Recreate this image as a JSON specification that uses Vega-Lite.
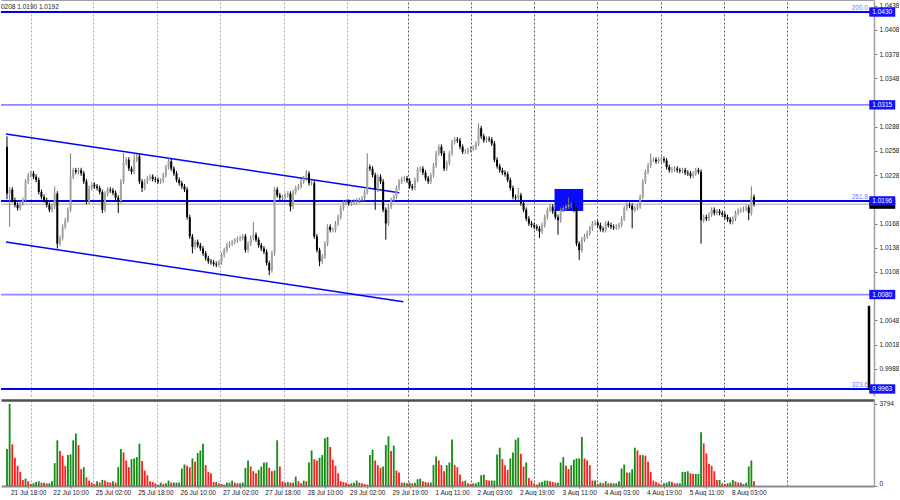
{
"$schema": "https://vega.github.io/schema/vega-lite/v6.json",
"padding": 0,
"background": "#ffffff",
"spacing": 4,
"config": {"view": {"stroke": null}, "font": "Liberation Sans", "axis": {"labelFont": "Liberation Sans", "labelFontSize": 6.5, "labelColor": "#1a1a1a", "tickColor": "#808080", "minExtent": 0, "labelOverlap": false}},
"datasets": {
"levels": [
{"p": 1.0192, "kind": "bid", "fib": ""},
{"p": 1.0430, "kind": "fibo", "fib": "200.0"},
{"p": 1.0315, "kind": "hline", "fib": ""},
{"p": 1.0196, "kind": "fibo", "fib": "261.8"},
{"p": 1.0080, "kind": "hline", "fib": ""},
{"p": 0.9963, "kind": "fibo", "fib": "323.6"}
],
"channel": [
{"k": "upper", "t": -0.37, "p": 1.0279},
{"k": "upper", "t": 148.1, "p": 1.0206},
{"k": "lower", "t": -0.37, "p": 1.0145},
{"k": "lower", "t": 149.6, "p": 1.0071}
],
"zone": [{"t1": 206.7, "t2": 217.5, "p1": 1.02108, "p2": 1.01835}],
"marker": [{"t": 325.4, "p1": 1.0066, "p2": 0.9962}],
"bars": [
{"t":0,"o":1.0263,"h":1.0276,"l":1.0198,"c":1.0205,"v":1711},
{"t":1,"o":1.0205,"h":1.0213,"l":1.0164,"c":1.0210,"v":3794},
{"t":2,"o":1.0210,"h":1.0213,"l":1.0194,"c":1.0197,"v":1928},
{"t":3,"o":1.0197,"h":1.0200,"l":1.0188,"c":1.0191,"v":1306},
{"t":4,"o":1.0191,"h":1.0194,"l":1.0184,"c":1.0187,"v":933},
{"t":5,"o":1.0187,"h":1.0196,"l":1.0184,"c":1.0193,"v":653},
{"t":6,"o":1.0193,"h":1.0200,"l":1.0190,"c":1.0197,"v":280},
{"t":7,"o":1.0197,"h":1.0223,"l":1.0194,"c":1.0220,"v":342},
{"t":8,"o":1.0220,"h":1.0231,"l":1.0217,"c":1.0228,"v":218},
{"t":9,"o":1.0228,"h":1.0233,"l":1.0225,"c":1.0230,"v":93},
{"t":10,"o":1.0230,"h":1.0233,"l":1.0223,"c":1.0226,"v":124},
{"t":11,"o":1.0226,"h":1.0229,"l":1.0219,"c":1.0222,"v":187},
{"t":12,"o":1.0222,"h":1.0225,"l":1.0204,"c":1.0207,"v":218},
{"t":13,"o":1.0207,"h":1.0210,"l":1.0198,"c":1.0201,"v":156},
{"t":14,"o":1.0201,"h":1.0204,"l":1.0194,"c":1.0197,"v":156},
{"t":15,"o":1.0197,"h":1.0200,"l":1.0188,"c":1.0191,"v":124},
{"t":16,"o":1.0191,"h":1.0194,"l":1.0182,"c":1.0185,"v":124},
{"t":17,"o":1.0185,"h":1.0192,"l":1.0182,"c":1.0189,"v":218},
{"t":18,"o":1.0189,"h":1.0214,"l":1.0186,"c":1.0205,"v":1057},
{"t":19,"o":1.0205,"h":1.0208,"l":1.0137,"c":1.0143,"v":2115},
{"t":20,"o":1.0143,"h":1.0153,"l":1.0140,"c":1.0150,"v":1617},
{"t":21,"o":1.0150,"h":1.0167,"l":1.0147,"c":1.0164,"v":1400},
{"t":22,"o":1.0164,"h":1.0175,"l":1.0161,"c":1.0172,"v":933},
{"t":23,"o":1.0172,"h":1.0188,"l":1.0169,"c":1.0185,"v":1431},
{"t":24,"o":1.0185,"h":1.0255,"l":1.0182,"c":1.0226,"v":1462},
{"t":25,"o":1.0226,"h":1.0237,"l":1.0223,"c":1.0234,"v":2115},
{"t":26,"o":1.0234,"h":1.0237,"l":1.0229,"c":1.0232,"v":2426},
{"t":27,"o":1.0232,"h":1.0237,"l":1.0229,"c":1.0234,"v":1897},
{"t":28,"o":1.0234,"h":1.0237,"l":1.0227,"c":1.0230,"v":778},
{"t":29,"o":1.0230,"h":1.0233,"l":1.0217,"c":1.0220,"v":871},
{"t":30,"o":1.0220,"h":1.0223,"l":1.0192,"c":1.0195,"v":404},
{"t":31,"o":1.0195,"h":1.0215,"l":1.0192,"c":1.0212,"v":249},
{"t":32,"o":1.0212,"h":1.0219,"l":1.0209,"c":1.0216,"v":156},
{"t":33,"o":1.0216,"h":1.0219,"l":1.0211,"c":1.0214,"v":93},
{"t":34,"o":1.0214,"h":1.0217,"l":1.0209,"c":1.0212,"v":218},
{"t":35,"o":1.0212,"h":1.0215,"l":1.0204,"c":1.0207,"v":156},
{"t":36,"o":1.0207,"h":1.0210,"l":1.0181,"c":1.0185,"v":280},
{"t":37,"o":1.0185,"h":1.0208,"l":1.0182,"c":1.0205,"v":249},
{"t":38,"o":1.0205,"h":1.0213,"l":1.0202,"c":1.0210,"v":187},
{"t":39,"o":1.0210,"h":1.0213,"l":1.0206,"c":1.0209,"v":156},
{"t":40,"o":1.0209,"h":1.0212,"l":1.0203,"c":1.0206,"v":218},
{"t":41,"o":1.0206,"h":1.0209,"l":1.0197,"c":1.0200,"v":156},
{"t":42,"o":1.0200,"h":1.0203,"l":1.0181,"c":1.0196,"v":871},
{"t":43,"o":1.0196,"h":1.0223,"l":1.0193,"c":1.0220,"v":1711},
{"t":44,"o":1.0220,"h":1.0255,"l":1.0217,"c":1.0243,"v":1555},
{"t":45,"o":1.0243,"h":1.0250,"l":1.0240,"c":1.0247,"v":1182},
{"t":46,"o":1.0247,"h":1.0250,"l":1.0233,"c":1.0236,"v":871},
{"t":47,"o":1.0236,"h":1.0239,"l":1.0229,"c":1.0232,"v":1244},
{"t":48,"o":1.0232,"h":1.0255,"l":1.0229,"c":1.0247,"v":1275},
{"t":49,"o":1.0247,"h":1.0254,"l":1.0244,"c":1.0251,"v":1337},
{"t":50,"o":1.0251,"h":1.0254,"l":1.0217,"c":1.0220,"v":1959},
{"t":51,"o":1.0220,"h":1.0223,"l":1.0207,"c":1.0212,"v":1151},
{"t":52,"o":1.0212,"h":1.0223,"l":1.0209,"c":1.0220,"v":715},
{"t":53,"o":1.0220,"h":1.0227,"l":1.0217,"c":1.0224,"v":498},
{"t":54,"o":1.0224,"h":1.0229,"l":1.0221,"c":1.0226,"v":218},
{"t":55,"o":1.0226,"h":1.0229,"l":1.0220,"c":1.0223,"v":187},
{"t":56,"o":1.0223,"h":1.0226,"l":1.0219,"c":1.0222,"v":124},
{"t":57,"o":1.0222,"h":1.0225,"l":1.0217,"c":1.0220,"v":62},
{"t":58,"o":1.0220,"h":1.0224,"l":1.0217,"c":1.0221,"v":156},
{"t":59,"o":1.0221,"h":1.0231,"l":1.0218,"c":1.0228,"v":93},
{"t":60,"o":1.0228,"h":1.0241,"l":1.0225,"c":1.0238,"v":124},
{"t":61,"o":1.0238,"h":1.0249,"l":1.0235,"c":1.0245,"v":249},
{"t":62,"o":1.0245,"h":1.0248,"l":1.0233,"c":1.0236,"v":156},
{"t":63,"o":1.0236,"h":1.0239,"l":1.0227,"c":1.0230,"v":156},
{"t":64,"o":1.0230,"h":1.0233,"l":1.0219,"c":1.0222,"v":156},
{"t":65,"o":1.0222,"h":1.0225,"l":1.0215,"c":1.0218,"v":156},
{"t":66,"o":1.0218,"h":1.0221,"l":1.0211,"c":1.0214,"v":809},
{"t":67,"o":1.0214,"h":1.0217,"l":1.0207,"c":1.0210,"v":995},
{"t":68,"o":1.0210,"h":1.0213,"l":1.0173,"c":1.0176,"v":933},
{"t":69,"o":1.0176,"h":1.0179,"l":1.0149,"c":1.0152,"v":871},
{"t":70,"o":1.0152,"h":1.0155,"l":1.0131,"c":1.0139,"v":1275},
{"t":71,"o":1.0139,"h":1.0148,"l":1.0136,"c":1.0145,"v":1120},
{"t":72,"o":1.0145,"h":1.0148,"l":1.0138,"c":1.0141,"v":1524},
{"t":73,"o":1.0141,"h":1.0144,"l":1.0134,"c":1.0137,"v":1648},
{"t":74,"o":1.0137,"h":1.0140,"l":1.0128,"c":1.0131,"v":1959},
{"t":75,"o":1.0131,"h":1.0134,"l":1.0122,"c":1.0125,"v":964},
{"t":76,"o":1.0125,"h":1.0128,"l":1.0118,"c":1.0121,"v":653},
{"t":77,"o":1.0121,"h":1.0124,"l":1.0117,"c":1.0120,"v":591},
{"t":78,"o":1.0120,"h":1.0123,"l":1.0115,"c":1.0118,"v":187},
{"t":79,"o":1.0118,"h":1.0121,"l":1.0114,"c":1.0117,"v":187},
{"t":80,"o":1.0117,"h":1.0123,"l":1.0114,"c":1.0120,"v":124},
{"t":81,"o":1.0120,"h":1.0132,"l":1.0117,"c":1.0129,"v":93},
{"t":82,"o":1.0129,"h":1.0138,"l":1.0126,"c":1.0135,"v":62},
{"t":83,"o":1.0135,"h":1.0144,"l":1.0132,"c":1.0141,"v":156},
{"t":84,"o":1.0141,"h":1.0146,"l":1.0138,"c":1.0143,"v":156},
{"t":85,"o":1.0143,"h":1.0148,"l":1.0140,"c":1.0145,"v":249},
{"t":86,"o":1.0145,"h":1.0150,"l":1.0142,"c":1.0147,"v":156},
{"t":87,"o":1.0147,"h":1.0152,"l":1.0144,"c":1.0149,"v":124},
{"t":88,"o":1.0149,"h":1.0153,"l":1.0146,"c":1.0150,"v":124},
{"t":89,"o":1.0150,"h":1.0155,"l":1.0147,"c":1.0152,"v":156},
{"t":90,"o":1.0152,"h":1.0155,"l":1.0132,"c":1.0135,"v":840},
{"t":91,"o":1.0135,"h":1.0146,"l":1.0132,"c":1.0143,"v":1182},
{"t":92,"o":1.0143,"h":1.0153,"l":1.0140,"c":1.0150,"v":902},
{"t":93,"o":1.0150,"h":1.0170,"l":1.0147,"c":1.0154,"v":684},
{"t":94,"o":1.0154,"h":1.0157,"l":1.0145,"c":1.0148,"v":591},
{"t":95,"o":1.0148,"h":1.0151,"l":1.0138,"c":1.0141,"v":746},
{"t":96,"o":1.0141,"h":1.0144,"l":1.0134,"c":1.0137,"v":902},
{"t":97,"o":1.0137,"h":1.0140,"l":1.0130,"c":1.0133,"v":1089},
{"t":98,"o":1.0133,"h":1.0136,"l":1.0116,"c":1.0119,"v":1089},
{"t":99,"o":1.0119,"h":1.0122,"l":1.0104,"c":1.0110,"v":840},
{"t":100,"o":1.0110,"h":1.0134,"l":1.0107,"c":1.0131,"v":684},
{"t":101,"o":1.0131,"h":1.0213,"l":1.0128,"c":1.0210,"v":715},
{"t":102,"o":1.0210,"h":1.0213,"l":1.0200,"c":1.0203,"v":2115},
{"t":103,"o":1.0203,"h":1.0206,"l":1.0197,"c":1.0200,"v":902},
{"t":104,"o":1.0200,"h":1.0204,"l":1.0197,"c":1.0201,"v":218},
{"t":105,"o":1.0201,"h":1.0206,"l":1.0198,"c":1.0203,"v":156},
{"t":106,"o":1.0203,"h":1.0208,"l":1.0200,"c":1.0205,"v":187},
{"t":107,"o":1.0205,"h":1.0208,"l":1.0183,"c":1.0189,"v":156},
{"t":108,"o":1.0189,"h":1.0210,"l":1.0186,"c":1.0207,"v":156},
{"t":109,"o":1.0207,"h":1.0215,"l":1.0204,"c":1.0212,"v":435},
{"t":110,"o":1.0212,"h":1.0217,"l":1.0209,"c":1.0214,"v":218},
{"t":111,"o":1.0214,"h":1.0223,"l":1.0211,"c":1.0220,"v":124},
{"t":112,"o":1.0220,"h":1.0227,"l":1.0217,"c":1.0224,"v":249},
{"t":113,"o":1.0224,"h":1.0234,"l":1.0221,"c":1.0230,"v":218},
{"t":114,"o":1.0230,"h":1.0233,"l":1.0215,"c":1.0218,"v":1089},
{"t":115,"o":1.0218,"h":1.0222,"l":1.0215,"c":1.0218,"v":1648},
{"t":116,"o":1.0218,"h":1.0221,"l":1.0149,"c":1.0152,"v":1244},
{"t":117,"o":1.0152,"h":1.0155,"l":1.0132,"c":1.0135,"v":1182},
{"t":118,"o":1.0135,"h":1.0138,"l":1.0115,"c":1.0121,"v":1306},
{"t":119,"o":1.0121,"h":1.0130,"l":1.0118,"c":1.0127,"v":1431},
{"t":120,"o":1.0127,"h":1.0146,"l":1.0124,"c":1.0143,"v":2208},
{"t":121,"o":1.0143,"h":1.0167,"l":1.0140,"c":1.0164,"v":2270},
{"t":122,"o":1.0164,"h":1.0167,"l":1.0157,"c":1.0160,"v":1804},
{"t":123,"o":1.0160,"h":1.0163,"l":1.0157,"c":1.0160,"v":1213},
{"t":124,"o":1.0160,"h":1.0171,"l":1.0157,"c":1.0168,"v":933},
{"t":125,"o":1.0168,"h":1.0179,"l":1.0165,"c":1.0176,"v":591},
{"t":126,"o":1.0176,"h":1.0190,"l":1.0173,"c":1.0187,"v":218},
{"t":127,"o":1.0187,"h":1.0197,"l":1.0184,"c":1.0194,"v":187},
{"t":128,"o":1.0194,"h":1.0198,"l":1.0191,"c":1.0195,"v":156},
{"t":129,"o":1.0195,"h":1.0198,"l":1.0190,"c":1.0193,"v":93},
{"t":130,"o":1.0193,"h":1.0197,"l":1.0190,"c":1.0194,"v":124},
{"t":131,"o":1.0194,"h":1.0198,"l":1.0191,"c":1.0195,"v":156},
{"t":132,"o":1.0195,"h":1.0199,"l":1.0192,"c":1.0196,"v":249},
{"t":133,"o":1.0196,"h":1.0200,"l":1.0193,"c":1.0197,"v":156},
{"t":134,"o":1.0197,"h":1.0202,"l":1.0194,"c":1.0199,"v":124},
{"t":135,"o":1.0199,"h":1.0210,"l":1.0196,"c":1.0207,"v":93},
{"t":136,"o":1.0207,"h":1.0255,"l":1.0204,"c":1.0238,"v":62},
{"t":137,"o":1.0238,"h":1.0241,"l":1.0233,"c":1.0236,"v":1431},
{"t":138,"o":1.0236,"h":1.0239,"l":1.0225,"c":1.0228,"v":1679},
{"t":139,"o":1.0228,"h":1.0231,"l":1.0185,"c":1.0210,"v":1182},
{"t":140,"o":1.0210,"h":1.0229,"l":1.0207,"c":1.0226,"v":964},
{"t":141,"o":1.0226,"h":1.0229,"l":1.0217,"c":1.0220,"v":840},
{"t":142,"o":1.0220,"h":1.0223,"l":1.0182,"c":1.0185,"v":902},
{"t":143,"o":1.0185,"h":1.0188,"l":1.0148,"c":1.0168,"v":1897},
{"t":144,"o":1.0168,"h":1.0192,"l":1.0165,"c":1.0189,"v":2301},
{"t":145,"o":1.0189,"h":1.0200,"l":1.0186,"c":1.0197,"v":1617},
{"t":146,"o":1.0197,"h":1.0204,"l":1.0194,"c":1.0201,"v":1866},
{"t":147,"o":1.0201,"h":1.0215,"l":1.0198,"c":1.0212,"v":715},
{"t":148,"o":1.0212,"h":1.0223,"l":1.0209,"c":1.0220,"v":622},
{"t":149,"o":1.0220,"h":1.0226,"l":1.0217,"c":1.0223,"v":156},
{"t":150,"o":1.0223,"h":1.0227,"l":1.0220,"c":1.0224,"v":156},
{"t":151,"o":1.0224,"h":1.0227,"l":1.0218,"c":1.0221,"v":124},
{"t":152,"o":1.0221,"h":1.0224,"l":1.0211,"c":1.0214,"v":156},
{"t":153,"o":1.0214,"h":1.0217,"l":1.0209,"c":1.0212,"v":124},
{"t":154,"o":1.0212,"h":1.0225,"l":1.0209,"c":1.0222,"v":156},
{"t":155,"o":1.0222,"h":1.0238,"l":1.0219,"c":1.0235,"v":311},
{"t":156,"o":1.0235,"h":1.0239,"l":1.0232,"c":1.0236,"v":342},
{"t":157,"o":1.0236,"h":1.0239,"l":1.0228,"c":1.0231,"v":218},
{"t":158,"o":1.0231,"h":1.0234,"l":1.0221,"c":1.0224,"v":187},
{"t":159,"o":1.0224,"h":1.0227,"l":1.0217,"c":1.0220,"v":156},
{"t":160,"o":1.0220,"h":1.0231,"l":1.0217,"c":1.0228,"v":156},
{"t":161,"o":1.0228,"h":1.0243,"l":1.0225,"c":1.0240,"v":964},
{"t":162,"o":1.0240,"h":1.0258,"l":1.0237,"c":1.0255,"v":1368},
{"t":163,"o":1.0255,"h":1.0266,"l":1.0252,"c":1.0263,"v":1182},
{"t":164,"o":1.0263,"h":1.0266,"l":1.0252,"c":1.0255,"v":964},
{"t":165,"o":1.0255,"h":1.0258,"l":1.0233,"c":1.0236,"v":684},
{"t":166,"o":1.0236,"h":1.0246,"l":1.0233,"c":1.0243,"v":964},
{"t":167,"o":1.0243,"h":1.0258,"l":1.0240,"c":1.0255,"v":1089},
{"t":168,"o":1.0255,"h":1.0272,"l":1.0252,"c":1.0269,"v":2146},
{"t":169,"o":1.0269,"h":1.0275,"l":1.0266,"c":1.0272,"v":964},
{"t":170,"o":1.0272,"h":1.0275,"l":1.0268,"c":1.0271,"v":871},
{"t":171,"o":1.0271,"h":1.0274,"l":1.0260,"c":1.0263,"v":529},
{"t":172,"o":1.0263,"h":1.0266,"l":1.0254,"c":1.0257,"v":218},
{"t":173,"o":1.0257,"h":1.0260,"l":1.0254,"c":1.0257,"v":249},
{"t":174,"o":1.0257,"h":1.0262,"l":1.0254,"c":1.0259,"v":124},
{"t":175,"o":1.0259,"h":1.0264,"l":1.0256,"c":1.0261,"v":93},
{"t":176,"o":1.0261,"h":1.0265,"l":1.0258,"c":1.0262,"v":124},
{"t":177,"o":1.0262,"h":1.0270,"l":1.0259,"c":1.0267,"v":124},
{"t":178,"o":1.0267,"h":1.0292,"l":1.0264,"c":1.0286,"v":187},
{"t":179,"o":1.0286,"h":1.0289,"l":1.0273,"c":1.0276,"v":498},
{"t":180,"o":1.0276,"h":1.0279,"l":1.0268,"c":1.0271,"v":529},
{"t":181,"o":1.0271,"h":1.0276,"l":1.0268,"c":1.0273,"v":280},
{"t":182,"o":1.0273,"h":1.0276,"l":1.0269,"c":1.0272,"v":249},
{"t":183,"o":1.0272,"h":1.0275,"l":1.0264,"c":1.0267,"v":249},
{"t":184,"o":1.0267,"h":1.0270,"l":1.0244,"c":1.0247,"v":249},
{"t":185,"o":1.0247,"h":1.0250,"l":1.0236,"c":1.0239,"v":1462},
{"t":186,"o":1.0239,"h":1.0242,"l":1.0231,"c":1.0234,"v":1773},
{"t":187,"o":1.0234,"h":1.0237,"l":1.0228,"c":1.0231,"v":1244},
{"t":188,"o":1.0231,"h":1.0234,"l":1.0226,"c":1.0229,"v":964},
{"t":189,"o":1.0229,"h":1.0232,"l":1.0219,"c":1.0222,"v":746},
{"t":190,"o":1.0222,"h":1.0225,"l":1.0209,"c":1.0212,"v":1275},
{"t":191,"o":1.0212,"h":1.0215,"l":1.0198,"c":1.0201,"v":1555},
{"t":192,"o":1.0201,"h":1.0204,"l":1.0197,"c":1.0200,"v":2146},
{"t":193,"o":1.0200,"h":1.0212,"l":1.0197,"c":1.0203,"v":2239},
{"t":194,"o":1.0203,"h":1.0206,"l":1.0190,"c":1.0193,"v":1493},
{"t":195,"o":1.0193,"h":1.0196,"l":1.0182,"c":1.0185,"v":902},
{"t":196,"o":1.0185,"h":1.0188,"l":1.0171,"c":1.0174,"v":1089},
{"t":197,"o":1.0174,"h":1.0177,"l":1.0165,"c":1.0168,"v":373},
{"t":198,"o":1.0168,"h":1.0171,"l":1.0163,"c":1.0166,"v":249},
{"t":199,"o":1.0166,"h":1.0169,"l":1.0161,"c":1.0164,"v":124},
{"t":200,"o":1.0164,"h":1.0167,"l":1.0159,"c":1.0162,"v":62},
{"t":201,"o":1.0162,"h":1.0165,"l":1.0150,"c":1.0158,"v":156},
{"t":202,"o":1.0158,"h":1.0169,"l":1.0155,"c":1.0166,"v":187},
{"t":203,"o":1.0166,"h":1.0179,"l":1.0163,"c":1.0176,"v":249},
{"t":204,"o":1.0176,"h":1.0188,"l":1.0173,"c":1.0185,"v":249},
{"t":205,"o":1.0185,"h":1.0192,"l":1.0182,"c":1.0189,"v":218},
{"t":206,"o":1.0189,"h":1.0192,"l":1.0180,"c":1.0183,"v":187},
{"t":207,"o":1.0183,"h":1.0186,"l":1.0173,"c":1.0176,"v":156},
{"t":208,"o":1.0176,"h":1.0179,"l":1.0154,"c":1.0172,"v":156},
{"t":209,"o":1.0172,"h":1.0188,"l":1.0169,"c":1.0185,"v":1089},
{"t":210,"o":1.0185,"h":1.0190,"l":1.0182,"c":1.0187,"v":1337},
{"t":211,"o":1.0187,"h":1.0192,"l":1.0184,"c":1.0189,"v":933},
{"t":212,"o":1.0189,"h":1.0200,"l":1.0186,"c":1.0191,"v":778},
{"t":213,"o":1.0191,"h":1.0194,"l":1.0187,"c":1.0191,"v":964},
{"t":214,"o":1.0191,"h":1.0194,"l":1.0182,"c":1.0185,"v":1213},
{"t":215,"o":1.0185,"h":1.0188,"l":1.0140,"c":1.0143,"v":1275},
{"t":216,"o":1.0143,"h":1.0146,"l":1.0123,"c":1.0135,"v":1275},
{"t":217,"o":1.0135,"h":1.0151,"l":1.0132,"c":1.0148,"v":2270},
{"t":218,"o":1.0148,"h":1.0155,"l":1.0145,"c":1.0152,"v":1275},
{"t":219,"o":1.0152,"h":1.0159,"l":1.0149,"c":1.0156,"v":1182},
{"t":220,"o":1.0156,"h":1.0165,"l":1.0153,"c":1.0162,"v":964},
{"t":221,"o":1.0162,"h":1.0171,"l":1.0159,"c":1.0168,"v":249},
{"t":222,"o":1.0168,"h":1.0172,"l":1.0165,"c":1.0169,"v":249},
{"t":223,"o":1.0169,"h":1.0172,"l":1.0163,"c":1.0166,"v":93},
{"t":224,"o":1.0166,"h":1.0169,"l":1.0158,"c":1.0161,"v":156},
{"t":225,"o":1.0161,"h":1.0164,"l":1.0157,"c":1.0160,"v":124},
{"t":226,"o":1.0160,"h":1.0171,"l":1.0157,"c":1.0168,"v":218},
{"t":227,"o":1.0168,"h":1.0171,"l":1.0163,"c":1.0166,"v":124},
{"t":228,"o":1.0166,"h":1.0169,"l":1.0161,"c":1.0164,"v":124},
{"t":229,"o":1.0164,"h":1.0167,"l":1.0160,"c":1.0163,"v":124},
{"t":230,"o":1.0163,"h":1.0167,"l":1.0160,"c":1.0164,"v":124},
{"t":231,"o":1.0164,"h":1.0169,"l":1.0161,"c":1.0166,"v":218},
{"t":232,"o":1.0166,"h":1.0177,"l":1.0163,"c":1.0174,"v":809},
{"t":233,"o":1.0174,"h":1.0190,"l":1.0171,"c":1.0187,"v":995},
{"t":234,"o":1.0187,"h":1.0194,"l":1.0184,"c":1.0191,"v":622},
{"t":235,"o":1.0191,"h":1.0194,"l":1.0187,"c":1.0190,"v":622},
{"t":236,"o":1.0190,"h":1.0193,"l":1.0162,"c":1.0185,"v":778},
{"t":237,"o":1.0185,"h":1.0190,"l":1.0182,"c":1.0187,"v":1773},
{"t":238,"o":1.0187,"h":1.0192,"l":1.0184,"c":1.0189,"v":1648},
{"t":239,"o":1.0189,"h":1.0204,"l":1.0186,"c":1.0201,"v":1431},
{"t":240,"o":1.0201,"h":1.0223,"l":1.0198,"c":1.0220,"v":1431},
{"t":241,"o":1.0220,"h":1.0235,"l":1.0217,"c":1.0232,"v":1400},
{"t":242,"o":1.0232,"h":1.0243,"l":1.0229,"c":1.0240,"v":1120},
{"t":243,"o":1.0240,"h":1.0255,"l":1.0237,"c":1.0247,"v":653},
{"t":244,"o":1.0247,"h":1.0250,"l":1.0244,"c":1.0247,"v":249},
{"t":245,"o":1.0247,"h":1.0250,"l":1.0242,"c":1.0245,"v":187},
{"t":246,"o":1.0245,"h":1.0250,"l":1.0242,"c":1.0247,"v":124},
{"t":247,"o":1.0247,"h":1.0251,"l":1.0244,"c":1.0248,"v":62},
{"t":248,"o":1.0248,"h":1.0251,"l":1.0243,"c":1.0246,"v":124},
{"t":249,"o":1.0246,"h":1.0249,"l":1.0235,"c":1.0238,"v":156},
{"t":250,"o":1.0238,"h":1.0241,"l":1.0231,"c":1.0234,"v":218},
{"t":251,"o":1.0234,"h":1.0238,"l":1.0231,"c":1.0235,"v":187},
{"t":252,"o":1.0235,"h":1.0239,"l":1.0232,"c":1.0236,"v":124},
{"t":253,"o":1.0236,"h":1.0239,"l":1.0231,"c":1.0234,"v":124},
{"t":254,"o":1.0234,"h":1.0237,"l":1.0230,"c":1.0233,"v":124},
{"t":255,"o":1.0233,"h":1.0237,"l":1.0230,"c":1.0234,"v":653},
{"t":256,"o":1.0234,"h":1.0237,"l":1.0228,"c":1.0231,"v":653},
{"t":257,"o":1.0231,"h":1.0234,"l":1.0227,"c":1.0230,"v":684},
{"t":258,"o":1.0230,"h":1.0233,"l":1.0224,"c":1.0227,"v":591},
{"t":259,"o":1.0227,"h":1.0233,"l":1.0224,"c":1.0230,"v":560},
{"t":260,"o":1.0230,"h":1.0237,"l":1.0227,"c":1.0234,"v":560},
{"t":261,"o":1.0234,"h":1.0237,"l":1.0229,"c":1.0232,"v":560},
{"t":262,"o":1.0232,"h":1.0235,"l":1.0143,"c":1.0172,"v":2488},
{"t":263,"o":1.0172,"h":1.0179,"l":1.0169,"c":1.0176,"v":1975},
{"t":264,"o":1.0176,"h":1.0179,"l":1.0171,"c":1.0174,"v":1508},
{"t":265,"o":1.0174,"h":1.0182,"l":1.0171,"c":1.0179,"v":1026},
{"t":266,"o":1.0179,"h":1.0188,"l":1.0176,"c":1.0185,"v":933},
{"t":267,"o":1.0185,"h":1.0188,"l":1.0178,"c":1.0181,"v":684},
{"t":268,"o":1.0181,"h":1.0186,"l":1.0178,"c":1.0183,"v":280},
{"t":269,"o":1.0183,"h":1.0186,"l":1.0178,"c":1.0181,"v":280},
{"t":270,"o":1.0181,"h":1.0184,"l":1.0176,"c":1.0179,"v":124},
{"t":271,"o":1.0179,"h":1.0182,"l":1.0173,"c":1.0176,"v":93},
{"t":272,"o":1.0176,"h":1.0179,"l":1.0170,"c":1.0173,"v":124},
{"t":273,"o":1.0173,"h":1.0176,"l":1.0167,"c":1.0170,"v":156},
{"t":274,"o":1.0170,"h":1.0177,"l":1.0167,"c":1.0174,"v":280},
{"t":275,"o":1.0174,"h":1.0184,"l":1.0171,"c":1.0181,"v":218},
{"t":276,"o":1.0181,"h":1.0187,"l":1.0178,"c":1.0184,"v":156},
{"t":277,"o":1.0184,"h":1.0188,"l":1.0181,"c":1.0185,"v":156},
{"t":278,"o":1.0185,"h":1.0189,"l":1.0182,"c":1.0186,"v":93},
{"t":279,"o":1.0186,"h":1.0191,"l":1.0183,"c":1.0188,"v":156},
{"t":280,"o":1.0188,"h":1.0191,"l":1.0172,"c":1.0181,"v":902},
{"t":281,"o":1.0181,"h":1.0214,"l":1.0178,"c":1.0201,"v":1182},
{"t":282,"o":1.0201,"h":1.0204,"l":1.0189,"c":1.0192,"v":218}
]
},
"vconcat": [
{
"width": 873,
"height": 396,
"title": {"text": "0208 1.0190 1.0192", "anchor": "start", "offset": -10, "fontSize": 6.5, "fontWeight": "normal", "font": "Liberation Sans", "color": "#1a1a1a", "frame": "group"},
"layer": [
{
"data": {"name": "levels"},
"mark": {"type": "rule"},
"encoding": {
"y": {"field": "p", "type": "quantitative", "scale": {"domain": [0.99543, 1.04449], "nice": false, "zero": false},
"axis": {"orient": "right", "title": null, "values": [1.0438, 1.0408, 1.0378, 1.0348, 1.0288, 1.0258, 1.0228, 1.0168, 1.0138, 1.0108, 1.0048, 1.0018, 0.9988], "tickCount": 30, "format": ".4f", "tickSize": 3, "labelPadding": 2, "domainColor": "#a0a0a0", "domainWidth": 1.5, "grid": false, "labelOverlap": false}},
"stroke": {"field": "kind", "type": "nominal", "scale": {"domain": ["fibo", "hline", "bid"], "range": ["#0000ff", "#8c8cff", "#c4c4c4"]}, "legend": null},
"strokeWidth": {"field": "kind", "type": "nominal", "scale": {"domain": ["fibo", "hline", "bid"], "range": [2, 1.5, 1]}, "legend": null}
}
},
{
"data": {"name": "zone"},
"mark": {"type": "rect", "color": "#0a0aff"},
"encoding": {
"x": {"field": "t1", "type": "quantitative", "scale": {"domain": [-0.37, 325.4], "nice": false, "zero": false},
"axis": {"orient": "top", "title": null, "values": [8.96, 32.57, 56.6, 80.5, 104.4, 128.3, 151.4, 175, 199, 222.9, 246.8, 270.6, 294.5], "tickCount": 30, "grid": true, "gridDash": [2, 2], "gridWidth": 1, "gridColor": {"condition": {"test": "datum.value > 140", "value": "#5a5a5a"}, "value": "#ababab"}, "labels": false, "ticks": false, "domain": true, "domainColor": "#a0a0a0", "domainWidth": 1}},
"x2": {"field": "t2"},
"y": {"field": "p1", "type": "quantitative", "axis": {"title": null}},
"y2": {"field": "p2"}
}
},
{
"data": {"name": "channel"},
"mark": {"type": "line", "color": "#0000ff", "strokeWidth": 1.5},
"encoding": {
"x": {"field": "t", "type": "quantitative", "axis": {"title": null}},
"y": {"field": "p", "type": "quantitative", "axis": {"title": null}},
"detail": {"field": "k", "type": "nominal"}
}
},
{
"data": {"name": "marker"},
"mark": {"type": "rule", "color": "#000000", "strokeWidth": 2.5},
"encoding": {
"x": {"field": "t", "type": "quantitative", "axis": {"title": null}},
"y": {"field": "p1", "type": "quantitative", "axis": {"title": null}},
"y2": {"field": "p2"}
}
},
{
"data": {"name": "bars"},
"mark": {"type": "rule", "strokeWidth": 1},
"encoding": {
"x": {"field": "t", "type": "quantitative", "axis": {"title": null}},
"y": {"field": "l", "type": "quantitative", "axis": {"title": null}},
"y2": {"field": "h"},
"color": {"condition": {"test": "datum.c >= datum.o", "value": "#7a7a7a"}, "value": "#000000"}
}
},
{
"data": {"name": "bars"},
"mark": {"type": "bar", "width": 2},
"encoding": {
"x": {"field": "t", "type": "quantitative", "axis": {"title": null}},
"y": {"field": "o", "type": "quantitative", "axis": {"title": null}},
"y2": {"field": "c"},
"color": {"condition": {"test": "datum.c >= datum.o", "value": "#a3a3a3"}, "value": "#000000"}
}
},
{
"data": {"name": "levels"},
"transform": [{"filter": "datum.fib != ''"}],
"mark": {"type": "text", "align": "right", "baseline": "bottom", "dx": -1, "dy": -1, "fontSize": 6.5, "font": "Liberation Sans", "color": "#7878ff"},
"encoding": {
"x": {"datum": 325.4},
"y": {"field": "p", "type": "quantitative", "axis": {"title": null}},
"text": {"field": "fib", "type": "nominal"}
}
},
{
"data": {"name": "levels"},
"mark": {"type": "point", "shape": "M-1,-0.36H1V0.36H-1Z", "size": 676, "filled": true, "opacity": 1, "strokeWidth": 0},
"encoding": {
"x": {"datum": 330.4},
"y": {"field": "p", "type": "quantitative", "axis": {"title": null}},
"fill": {"field": "kind", "type": "nominal", "scale": {"domain": ["fibo", "hline", "bid"], "range": ["#1212ff", "#1212ff", "#000000"]}, "legend": null}
}
},
{
"data": {"name": "levels"},
"transform": [{"filter": "datum.kind != 'bid'"}],
"mark": {"type": "text", "fontSize": 6.5, "font": "Liberation Sans", "color": "#ffffff", "align": "center", "baseline": "middle"},
"encoding": {
"x": {"datum": 330.4},
"y": {"field": "p", "type": "quantitative", "axis": {"title": null}},
"text": {"field": "p", "type": "quantitative", "format": ".4f"}
}
}
]
},
{
"width": 873,
"height": 86,
"data": {"name": "bars"},
"transform": [{"window": [{"op": "lag", "field": "v", "as": "pv"}], "sort": [{"field": "t"}]}],
"layer": [
{
"mark": {"type": "bar", "width": 1.8},
"encoding": {
"x": {"field": "t", "type": "quantitative", "scale": {"domain": [-0.37, 325.4], "nice": false, "zero": false},
"axis": {"orient": "bottom", "title": null, "values": [8, 24, 40, 56, 72, 88, 104, 120, 136, 152, 168, 184, 200, 216, 232, 248, 264, 280], "tickCount": 30, "labelExpr": "['21 Jul 18:00','22 Jul 10:00','25 Jul 02:00','25 Jul 18:00','26 Jul 10:00','27 Jul 02:00','27 Jul 18:00','28 Jul 10:00','29 Jul 02:00','29 Jul 19:00','1 Aug 11:00','2 Aug 03:00','2 Aug 19:00','3 Aug 11:00','4 Aug 03:00','4 Aug 19:00','5 Aug 11:00','8 Aug 03:00'][round((datum.value - 8) / 16)]", "tickSize": 2, "labelPadding": 1, "domainColor": "#8c8c8c", "domainWidth": 2, "grid": false, "labelOverlap": false}},
"y": {"field": "v", "type": "quantitative", "scale": {"domain": [0, 3979], "nice": false},
"axis": {"orient": "right", "title": null, "values": [0, 3794], "format": "d", "tickSize": 3, "labelPadding": 2, "labelFlush": true, "domainColor": "#a0a0a0", "domainWidth": 1.5, "grid": false}},
"color": {"condition": {"test": "datum.pv == null || datum.v >= datum.pv", "value": "#128c12"}, "value": "#ff1c1c"}
}
},
{
"mark": {"type": "bar", "width": 1, "opacity": 0},
"encoding": {
"x": {"field": "t", "type": "quantitative",
"axis": {"orient": "top", "title": null, "values": [8.96, 32.57, 56.6, 80.5, 104.4, 128.3, 151.4, 175, 199, 222.9, 246.8, 270.6, 294.5], "tickCount": 30, "grid": true, "gridDash": [2, 2], "gridWidth": 1, "gridColor": {"condition": {"test": "datum.value > 140", "value": "#5a5a5a"}, "value": "#ababab"}, "labels": false, "ticks": false, "domain": true, "domainColor": "#4e4e4e", "domainWidth": 2.5}},
"y": {"field": "v", "type": "quantitative", "axis": {"title": null}}
}
}
],
"resolve": {"axis": {"x": "independent"}}
}
]
}
